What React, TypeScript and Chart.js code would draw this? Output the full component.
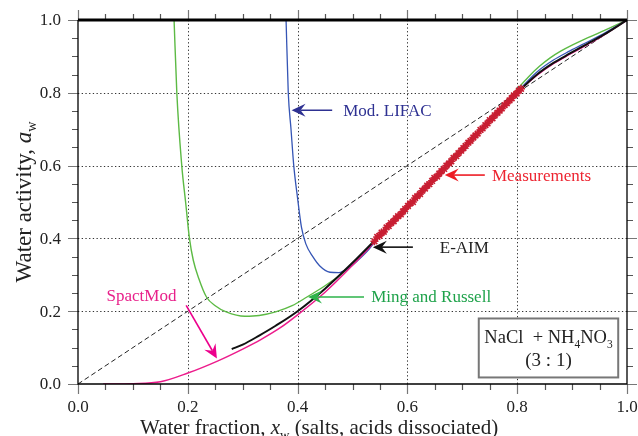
import React, { useEffect, useRef } from "react";
import { Chart, registerables } from "chart.js";
Chart.register(...registerables);

const FONT = "'Liberation Serif', 'Times New Roman', serif";

// ---- axis ticks ----
const majorTicks = [0, 0.2, 0.4, 0.6, 0.8, 1.0];
const tickLabels = ["0.0", "0.2", "0.4", "0.6", "0.8", "1.0"];
const gridTicks = [0.2, 0.4, 0.6, 0.8];
const minorTicks = [0.05, 0.1, 0.15, 0.25, 0.3, 0.35, 0.45, 0.5, 0.55, 0.65, 0.7, 0.75, 0.85, 0.9, 0.95];

// ---- series ----
const diagX = [0, 1];
const diagY = [0, 1];

const eaimX = [0.28, 0.30, 0.33, 0.36, 0.40, 0.45, 0.50, 0.544, 0.60, 0.671, 0.75, 0.80, 0.835, 0.866, 0.896, 0.927, 0.957, 1.0];
const eaimY = [0.096, 0.108, 0.133, 0.16, 0.20, 0.262, 0.333, 0.40, 0.488, 0.60, 0.725, 0.80, 0.849, 0.882, 0.908, 0.934, 0.959, 1.0];

const spactX = [0.046, 0.10, 0.15, 0.20, 0.254, 0.30, 0.333, 0.37, 0.40, 0.45, 0.50, 0.544, 0.60, 0.671, 0.75, 0.80, 0.835, 0.866, 0.896, 0.927, 0.957, 1.0];
const spactY = [0.0, 0.001, 0.006, 0.03, 0.063, 0.096, 0.122, 0.156, 0.19, 0.252, 0.326, 0.397, 0.488, 0.60, 0.725, 0.80, 0.847, 0.880, 0.906, 0.932, 0.958, 1.0];

const lifacX = [0.379, 0.383, 0.388, 0.393, 0.40, 0.407, 0.415, 0.428, 0.44, 0.459, 0.475, 0.495, 0.51, 0.53, 0.544, 0.60, 0.671, 0.75, 0.80, 0.835, 0.866, 0.896, 0.927, 0.957, 1.0];
const lifacY = [1.0, 0.80, 0.70, 0.60, 0.51, 0.431, 0.385, 0.349, 0.325, 0.307, 0.306, 0.321, 0.34, 0.37, 0.397, 0.486, 0.599, 0.726, 0.802, 0.856, 0.890, 0.915, 0.939, 0.962, 1.0];

const mingX = [0.175, 0.18, 0.189, 0.196, 0.203, 0.21, 0.22, 0.234, 0.25, 0.27, 0.304, 0.33, 0.36, 0.39, 0.417, 0.45, 0.48, 0.50, 0.544, 0.60, 0.671, 0.75, 0.78, 0.80, 0.82, 0.84, 0.86, 0.88, 0.90, 0.93, 0.96, 1.0];
const mingY = [1.0, 0.80, 0.60, 0.50, 0.40, 0.34, 0.29, 0.239, 0.215, 0.198, 0.186, 0.188, 0.198, 0.215, 0.239, 0.27, 0.302, 0.328, 0.398, 0.486, 0.598, 0.726, 0.776, 0.810, 0.843, 0.872, 0.896, 0.915, 0.931, 0.952, 0.972, 1.0];

const measX = [0.540, 0.545, 0.549, 0.553, 0.557, 0.562, 0.566, 0.570, 0.575, 0.579, 0.583, 0.588, 0.592, 0.596, 0.601, 0.605, 0.610, 0.614, 0.618, 0.623, 0.627, 0.632, 0.636, 0.640, 0.645, 0.649, 0.654, 0.658, 0.662, 0.667, 0.671, 0.676, 0.680, 0.684, 0.689, 0.693, 0.698, 0.702, 0.706, 0.711, 0.715, 0.720, 0.724, 0.728, 0.733, 0.737, 0.742, 0.746, 0.750, 0.755, 0.759, 0.764, 0.768, 0.772, 0.777, 0.781, 0.786, 0.790, 0.794, 0.799, 0.803, 0.807];
const measY = [0.392, 0.404, 0.407, 0.416, 0.418, 0.430, 0.434, 0.442, 0.447, 0.455, 0.461, 0.466, 0.474, 0.481, 0.489, 0.496, 0.500, 0.511, 0.516, 0.522, 0.531, 0.537, 0.545, 0.549, 0.558, 0.566, 0.570, 0.578, 0.585, 0.591, 0.600, 0.606, 0.612, 0.621, 0.626, 0.634, 0.641, 0.648, 0.654, 0.663, 0.668, 0.677, 0.683, 0.688, 0.698, 0.702, 0.711, 0.716, 0.725, 0.730, 0.738, 0.745, 0.751, 0.757, 0.766, 0.771, 0.779, 0.785, 0.793, 0.798, 0.806, 0.811];

const pts = (xs: number[], ys: number[]) => xs.map((x, i) => ({ x, y: ys[i] }));

type Part = { t: string; italic?: boolean; sub?: boolean };

function richWidth(ctx: CanvasRenderingContext2D, parts: Part[], size: number) {
  let w = 0;
  for (const p of parts) {
    const s = p.sub ? size * 0.62 : size;
    ctx.font = `${p.italic ? "italic " : ""}${s}px ${FONT}`;
    w += ctx.measureText(p.t).width;
  }
  return w;
}

function drawRich(ctx: CanvasRenderingContext2D, parts: Part[], x: number, y: number, size: number, color: string) {
  ctx.fillStyle = color;
  ctx.textBaseline = "alphabetic";
  ctx.textAlign = "left";
  let cx = x;
  for (const p of parts) {
    const s = p.sub ? size * 0.62 : size;
    ctx.font = `${p.italic ? "italic " : ""}${s}px ${FONT}`;
    ctx.fillText(p.t, cx, p.sub ? y + size * 0.22 : y);
    cx += ctx.measureText(p.t).width;
  }
}

function arrow(ctx: CanvasRenderingContext2D, x1: number, y1: number, x2: number, y2: number, color: string) {
  const ang = Math.atan2(y2 - y1, x2 - x1);
  const L = 14, W = 6.5, N = 9;
  const cos = Math.cos(ang), sin = Math.sin(ang);
  ctx.save();
  ctx.strokeStyle = color;
  ctx.fillStyle = color;
  ctx.lineWidth = 1.6;
  ctx.beginPath();
  ctx.moveTo(x1, y1);
  ctx.lineTo(x2 - cos * N, y2 - sin * N);
  ctx.stroke();
  ctx.beginPath();
  ctx.moveTo(x2, y2);
  ctx.lineTo(x2 - cos * L - sin * W, y2 - sin * L + cos * W);
  ctx.lineTo(x2 - cos * N, y2 - sin * N);
  ctx.lineTo(x2 - cos * L + sin * W, y2 - sin * L - cos * W);
  ctx.closePath();
  ctx.fill();
  ctx.restore();
}

const deco = {
  id: "deco",
  beforeDatasetsDraw(chart: any) {
    const { ctx, chartArea: a, scales } = chart;
    const xs = scales.x, ys = scales.y;
    ctx.save();
    ctx.strokeStyle = "#333";
    ctx.lineWidth = 1;
    ctx.setLineDash([1.3, 2.4]);
    for (const v of gridTicks) {
      const px = Math.round(xs.getPixelForValue(v)) + 0.5;
      ctx.beginPath(); ctx.moveTo(px, a.top); ctx.lineTo(px, a.bottom); ctx.stroke();
      const py = Math.round(ys.getPixelForValue(v)) + 0.5;
      ctx.beginPath(); ctx.moveTo(a.left, py); ctx.lineTo(a.right, py); ctx.stroke();
    }
    ctx.restore();
  },
  afterDraw(chart: any) {
    const { ctx, chartArea: a, scales } = chart;
    const xs = scales.x, ys = scales.y;
    const X = (v: number) => xs.getPixelForValue(v);
    const Y = (v: number) => ys.getPixelForValue(v);
    ctx.save();
    // ticks
    const tick = (vals: number[], len: number, color: string) => {
      ctx.strokeStyle = color;
      ctx.lineWidth = 1.2;
      for (const v of vals) {
        const px = Math.round(X(v)) + 0.5;
        const py = Math.round(Y(v)) + 0.5;
        ctx.beginPath();
        ctx.moveTo(px, a.bottom); ctx.lineTo(px, a.bottom + len);
        ctx.moveTo(px, a.top); ctx.lineTo(px, a.top - len);
        ctx.moveTo(a.left, py); ctx.lineTo(a.left - len, py);
        ctx.moveTo(a.right, py); ctx.lineTo(a.right + len, py);
        ctx.stroke();
      }
    };
    tick(minorTicks, 6, "#555");
    tick(majorTicks, 10, "#777");
    // frame
    ctx.strokeStyle = "#000";
    ctx.lineWidth = 1.3;
    ctx.beginPath();
    ctx.moveTo(a.left, a.top); ctx.lineTo(a.left, a.bottom); ctx.lineTo(a.right, a.bottom); ctx.lineTo(a.right, a.top);
    ctx.stroke();
    ctx.lineWidth = 3;
    ctx.beginPath(); ctx.moveTo(a.left, a.top); ctx.lineTo(a.right, a.top); ctx.stroke();

    // tick labels
    ctx.font = `17px ${FONT}`;
    ctx.fillStyle = "#222";
    ctx.textBaseline = "middle";
    majorTicks.forEach((v, i) => {
      ctx.textAlign = "center";
      ctx.fillText(tickLabels[i], X(v), a.bottom + 24);
      ctx.textAlign = "right";
      ctx.fillText(tickLabels[i], a.left - 17, Y(v) + 1);
    });

    // axis titles
    const xt: Part[] = [{ t: "Water fraction, " }, { t: "x", italic: true }, { t: "w", sub: true }, { t: " (salts, acids dissociated)" }];
    drawRich(ctx, xt, 140, 434, 21, "#222");
    const yt: Part[] = [{ t: "Water activity, " }, { t: "a", italic: true }, { t: "w", sub: true }];
    const yw = richWidth(ctx, yt, 23);
    ctx.save();
    ctx.translate(31, (a.top + a.bottom) / 2);
    ctx.rotate(-Math.PI / 2);
    drawRich(ctx, yt, -yw / 2, 0, 23, "#222");
    ctx.restore();

    // annotations
    const ann = (label: string, tipX: number, tipY: number, tailX: number, textX: number, color: string, tcolor: string) => {
      arrow(ctx, X(tailX), Y(tipY), X(tipX), Y(tipY), color);
      ctx.font = `17px ${FONT}`;
      ctx.fillStyle = tcolor;
      ctx.textAlign = "left";
      ctx.textBaseline = "middle";
      ctx.fillText(label, X(textX), Y(tipY) + 1);
    };
    ann("Mod. LIFAC", 0.389, 0.752, 0.463, 0.483, "#2e3192", "#2e3192");
    ann("Measurements", 0.668, 0.574, 0.741, 0.754, "#ed1c24", "#ed2430");
    ann("E-AIM", 0.537, 0.376, 0.61, 0.659, "#111", "#222");
    ann("Ming and Russell", 0.419, 0.239, 0.521, 0.534, "#2db34a", "#1ea24a");
    // SpactMod
    arrow(ctx, X(0.197), Y(0.216), X(0.253), Y(0.07), "#ec008c");
    ctx.font = `17px ${FONT}`;
    ctx.fillStyle = "#e8208a";
    ctx.textAlign = "left";
    ctx.textBaseline = "middle";
    ctx.fillText("SpactMod", X(0.052), Y(0.241));

    // composition box
    const bl = X(0.73), br = X(0.984), bt = Y(0.18), bb = Y(0.018);
    ctx.fillStyle = "#fff";
    ctx.fillRect(bl, bt, br - bl, bb - bt);
    ctx.strokeStyle = "#777";
    ctx.lineWidth = 2;
    ctx.strokeRect(bl, bt, br - bl, bb - bt);
    const l1: Part[] = [{ t: "NaCl  + NH" }, { t: "4", sub: true }, { t: "NO" }, { t: "3", sub: true }];
    const w1 = richWidth(ctx, l1, 18.5);
    const cxm = (bl + br) / 2;
    drawRich(ctx, l1, cxm - w1 / 2, bt + 25, 18.5, "#222");
    const l2: Part[] = [{ t: "(3 : 1)" }];
    const w2 = richWidth(ctx, l2, 19);
    drawRich(ctx, l2, cxm - w2 / 2, bt + 48, 19, "#222");
    ctx.restore();
  },
};

export default function App() {
  const ref = useRef<HTMLCanvasElement>(null);
  useEffect(() => {
    if (!ref.current) return;
    const line = (data: any, color: string, width: number, extra: any = {}) => ({
      data,
      borderColor: color,
      backgroundColor: color,
      borderWidth: width,
      pointRadius: 0,
      fill: false,
      cubicInterpolationMode: "monotone",
      ...extra,
    });
    const chart = new Chart(ref.current, {
      type: "line",
      data: {
        datasets: [
          {
            data: pts(measX, measY),
            showLine: false,
            pointStyle: "star",
            pointRadius: 4,
            pointBorderWidth: 1.6,
            pointBorderColor: "#c81e32",
            pointBackgroundColor: "#c81e32",
            borderColor: "#c81e32",
          },
          line(pts(eaimX, eaimY), "#111", 2),
          line(pts(spactX, spactY), "#ec1c8c", 1.5),
          line(pts(lifacX, lifacY), "#3555b5", 1.3),
          line(pts(mingX, mingY), "#5cba44", 1.4),
          line(pts(diagX, diagY), "#222", 1, { borderDash: [5, 3], cubicInterpolationMode: "default", tension: 0 }),
        ] as any,
      },
      options: {
        animation: false,
        responsive: false,
        events: [],
        layout: { padding: { top: 20, right: 11, left: 0, bottom: 0 } },
        plugins: { legend: { display: false }, tooltip: { enabled: false }, title: { display: false } },
        scales: {
          x: {
            type: "linear",
            min: 0,
            max: 1,
            grid: { display: false },
            border: { display: false },
            afterFit: (s: any) => { s.height = 52; },
            ticks: { display: false },
          },
          y: {
            type: "linear",
            min: 0,
            max: 1,
            grid: { display: false },
            border: { display: false },
            afterFit: (s: any) => { s.width = 78; },
            ticks: { display: false },
          },
        },
      } as any,
      plugins: [deco],
    });
    return () => chart.destroy();
  }, []);
  return (
    <div style={{ position: "absolute", left: 0, top: 0, width: 638, height: 436, background: "#fff" }}>
      <canvas ref={ref} width={638} height={436} style={{ display: "block" }} />
    </div>
  );
}
